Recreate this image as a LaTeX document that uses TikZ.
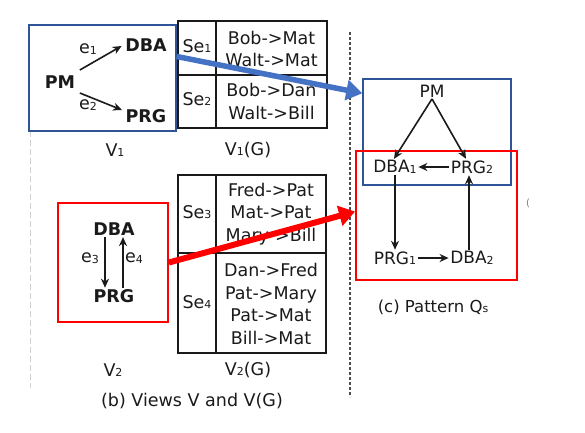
\documentclass[tikz,border=0pt]{standalone}
\usepackage{fontspec}
\setmainfont{DejaVu Sans}
\usetikzlibrary{arrows.meta,calc}
\definecolor{boxblue}{HTML}{2F5597}
\definecolor{arrblue}{HTML}{4472C4}
\definecolor{boxred}{HTML}{FF0000}
\definecolor{ink}{HTML}{1A1A1A}
\newcommand{\sbs}[1]{\raisebox{-0.5pt}{\fontsize{11}{11}\selectfont #1}}
\begin{document}
\begin{tikzpicture}[x=1pt,y=-1pt,
  txt/.style={inner sep=1.5pt, text=ink, font=\fontsize{17.5}{22.5}\selectfont, align=center},
  gtxt/.style={inner sep=1.5pt, text=ink, font=\fontsize{17}{20}\selectfont},
  bld/.style={inner sep=1.5pt, text=ink, font=\fontsize{17.5}{21}\selectfont\bfseries},
  arr/.style={-{Stealth[length=9pt,width=8pt]}, line width=1.6pt, draw=ink},
  tbl/.style={line width=1.4pt, draw=ink},
  bluebox/.style={line width=1.5pt, draw=boxblue},
  redbox/.style={line width=1.8pt, draw=boxred},
  bigblue/.style={line width=5.5pt, draw=arrblue, -{Triangle[length=16pt,width=20pt]}},
  bigred/.style={line width=6pt, draw=boxred, -{Triangle[length=16pt,width=20pt]}}
]
\useasboundingbox (0,0) rectangle (585,432);

% separators
\draw[gray!35, line width=1pt, dash pattern=on 6pt off 3pt] (30,131) -- (30,388);
\draw[gray!60!black, line width=1.5pt, dash pattern=on 3pt off 2pt] (350,32) -- (350,397);

% ---- V1 ----
\node[bluebox, minimum width=147pt, minimum height=106pt, inner sep=0pt] (v1box) at (102.5,78) {};
\node[bld] (pm1) at (60,82) {PM};
\node[bld] (dba1v) at (146,45) {DBA};
\node[bld] (prg1v) at (146,116) {PRG};
\draw[arr] ([shift={(3,-12)}]pm1.east) -- ([shift={(-2,1)}]dba1v.west);
\draw[arr] ([shift={(3,11)}]pm1.east) -- ([shift={(-2,-6)}]prg1v.west);
\node[txt] (e1) at (88,49) {e\sbs{1}};
\node[txt] (e2) at (88,105) {e\sbs{2}};
\node[txt] (v1lab) at (115,150) {V\sbs{1}};

% ---- table V1(G) ----
\draw[tbl] (178,21) rectangle (327,128);
\draw[tbl] (216,21) -- (216,128);
\draw[tbl] (178,75) -- (327,75);
\node[txt] (se1) at (197,46) {Se\sbs{1}};
\node[txt] (se2) at (197,99) {Se\sbs{2}};
\node[txt] (r1) at (271.5,49) {Bob->Mat\\Walt->Mat};
\node[txt] (r2) at (271.5,101.5) {Bob->Dan\\Walt->Bill};
\node[txt] (v1g) at (248,150) {V\sbs{1}(G)};

% ---- V2 ----
\node[redbox, minimum width=110pt, minimum height=119pt, inner sep=0pt] (v2box) at (113,262.5) {};
\node[bld] (dba2v) at (114,229) {DBA};
\node[bld] (prg2v) at (114,296) {PRG};
\draw[arr] ([xshift=-9pt]dba2v.south) -- ([xshift=-9pt]prg2v.north);
\draw[arr] ([xshift=9pt]prg2v.north) -- ([xshift=9pt]dba2v.south);
\node[txt] (e3) at (90,258) {e\sbs{3}};
\node[txt] (e4) at (134,258) {e\sbs{4}};
\node[txt] (v2lab) at (113,370) {V\sbs{2}};

% ---- table V2(G) ----
\draw[tbl] (178,175) rectangle (326,353);
\draw[tbl] (216,175) -- (216,353);
\draw[tbl] (178,253) -- (326,253);
\node[txt] (se3) at (197,212) {Se\sbs{3}};
\node[txt] (se4) at (197,302) {Se\sbs{4}};
\node[txt] (r3) at (271,214) {Fred->Pat\\Mat->Pat\\Mary->Bill};
\node[txt] (r4) at (271,304) {Dan->Fred\\Pat->Mary\\Pat->Mat\\Bill->Mat};
\node[txt] (v2g) at (248,370) {V\sbs{2}(G)};

\node[txt] (capb) at (192,401) {(b) Views V and V(G)};

% ---- pattern Qs ----
\node[bluebox, minimum width=148pt, minimum height=106pt, inner sep=0pt] (qblue) at (437,132) {};
\node[redbox, minimum width=161pt, minimum height=129pt, inner sep=0pt] (qred) at (436.5,215.5) {};
\node[gtxt] (qpm) at (432,91) {PM};
\node[gtxt] (qdba1) at (395,167) {DBA\sbs{1}};
\node[gtxt] (qprg2) at (472,167) {PRG\sbs{2}};
\node[gtxt] (qprg1) at (395,258) {PRG\sbs{1}};
\node[gtxt] (qdba2) at (472,258) {DBA\sbs{2}};
\draw[arr] (qpm.south) -- ([xshift=-1pt]qdba1.north);
\draw[arr] (qpm.south) -- ([xshift=-6pt]qprg2.north);
\draw[arr] (qprg2.west) -- (qdba1.east);
\draw[arr] (qdba1.south) -- (qprg1.north);
\draw[arr] ([xshift=-3pt]qdba2.north) -- ([xshift=-3pt]qprg2.south);
\draw[arr] (qprg1.east) -- (qdba2.west);
\node[inner sep=0pt, text=gray, font=\fontsize{10}{10}\selectfont] (paren) at (528,203) {(};
\node[gtxt, font=\fontsize{16.5}{20}\selectfont] (capc) at (433,307) {(c) Pattern Q\sbs{s}};

% ---- big arrows ----
\draw[bigblue] ($(v1box.north east)!0.30!(v1box.south east)$) -- ($(qblue.north west)!0.14!(qblue.south west)$);
\draw[bigred] (v2box.east) -- ($(qred.north west)!0.47!(qred.south west)$);
\end{tikzpicture}
\end{document}
